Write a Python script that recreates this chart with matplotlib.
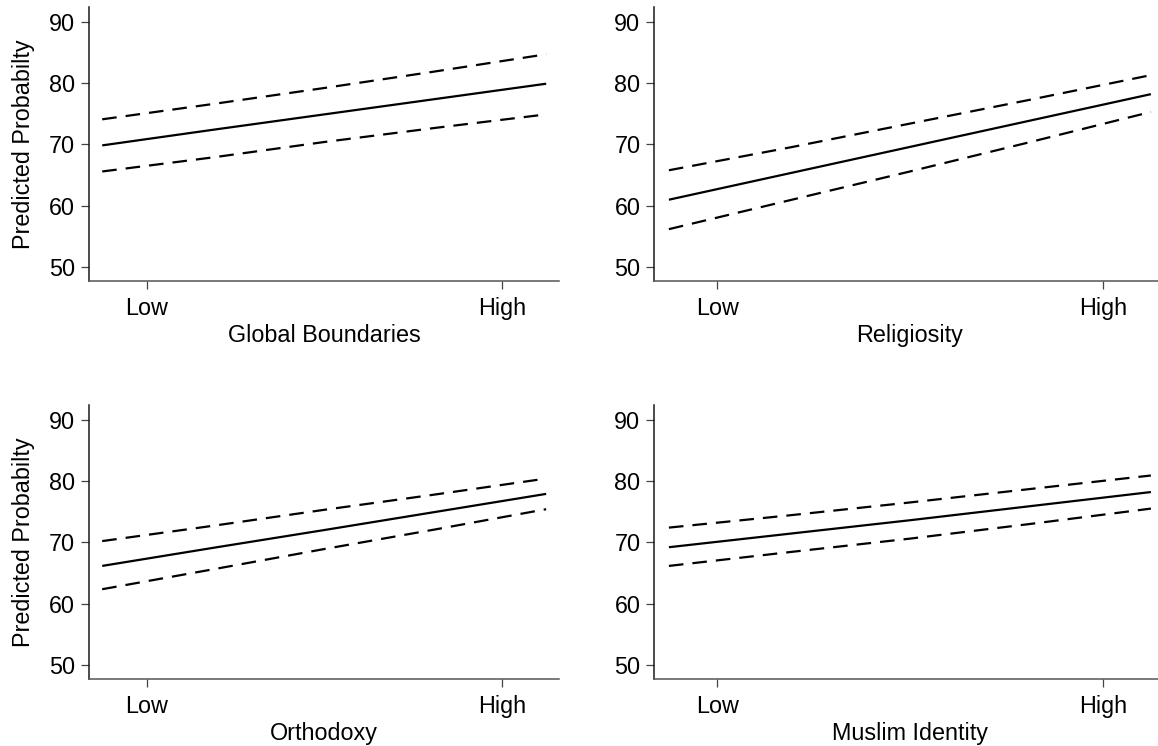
import matplotlib
matplotlib.use("Agg")
from matplotlib import pyplot as plt

plt.rcParams['font.family'] = ['Liberation Sans', 'DejaVu Sans']
plt.rcParams['lines.scale_dashes'] = False

# predicted probability at standardized values of each predictor
x_vals = [-0.125, 0.1875, 0.5, 0.8125, 1.125]

boundaries_fit = [69.85, 72.4, 74.9, 77.4, 79.9]
boundaries_hi = [74.1, 76.6, 79.2, 81.9, 84.7]
boundaries_lo = [65.6, 67.9, 70.4, 72.7, 74.9]

religiosity_fit = [61.0, 65.3, 69.6, 73.9, 78.2]
religiosity_hi = [65.8, 69.5, 73.4, 77.3, 81.3]
religiosity_lo = [56.2, 60.9, 65.6, 70.4, 75.3]

orthodoxy_fit = [66.15, 69.1, 72.0, 74.95, 77.9]
orthodoxy_hi = [70.2, 72.7, 75.3, 77.8, 80.4]
orthodoxy_lo = [62.35, 65.6, 68.9, 72.1, 75.4]

muslim_fit = [69.2, 71.4, 73.6, 75.9, 78.2]
muslim_hi = [72.4, 74.4, 76.5, 78.7, 80.9]
muslim_lo = [66.15, 68.4, 70.6, 73.0, 75.5]

y_ticks = [50, 60, 70, 80, 90]
x_ticks = [0, 1]
x_ticklabels = ['Low', 'High']

panels = [
    ('Global Boundaries', boundaries_fit, boundaries_hi, boundaries_lo, [0.0766, 0.6233, 0.4064, 0.3669], True),
    ('Religiosity', religiosity_fit, religiosity_hi, religiosity_lo, [0.5650, 0.6233, 0.4412, 0.3669], False),
    ('Orthodoxy', orthodoxy_fit, orthodoxy_hi, orthodoxy_lo, [0.0766, 0.0902, 0.4064, 0.3665], True),
    ('Muslim Identity', muslim_fit, muslim_hi, muslim_lo, [0.5650, 0.0902, 0.4412, 0.3665], False),
]

fig = plt.figure(figsize=(11.58, 7.46), dpi=100)

for name, fit, hi, lo, rect, show_ylabel in panels:
    ax = fig.add_axes(rect)
    ax.plot(x_vals, fit, color='black', lw=1.6, solid_capstyle='butt')
    ax.plot(x_vals, hi, color='black', lw=1.6, dashes=(10.5, 6.5), dash_capstyle='butt')
    ax.plot(x_vals, lo, color='black', lw=1.6, dashes=(10.5, 6.5), dash_capstyle='butt')

    ax.set_xlim(-0.163, 1.162)
    ax.set_ylim(47.75, 92.35)
    ax.set_xticks(x_ticks)
    ax.set_xticklabels(x_ticklabels)
    ax.set_yticks(y_ticks)

    for side in ('top', 'right'):
        ax.spines[side].set_visible(False)
    ax.spines['left'].set_color('#1a1a1a')
    ax.spines['bottom'].set_color('#555555')
    ax.spines['left'].set_linewidth(1.1)
    ax.spines['bottom'].set_linewidth(1.1)

    ax.tick_params(axis='y', direction='out', length=6, width=0.9, color='#444444',
                   labelsize=16.8, pad=4)
    ax.tick_params(axis='x', direction='out', length=6, width=0.9, color='#444444',
                   labelsize=16.8, pad=5.5)

    ax.set_xlabel(name, fontsize=16.8, labelpad=3)
    if show_ylabel:
        ax.set_ylabel('Predicted Probabilty', fontsize=16.8, labelpad=10)

fig.savefig('out.png', dpi=100)
